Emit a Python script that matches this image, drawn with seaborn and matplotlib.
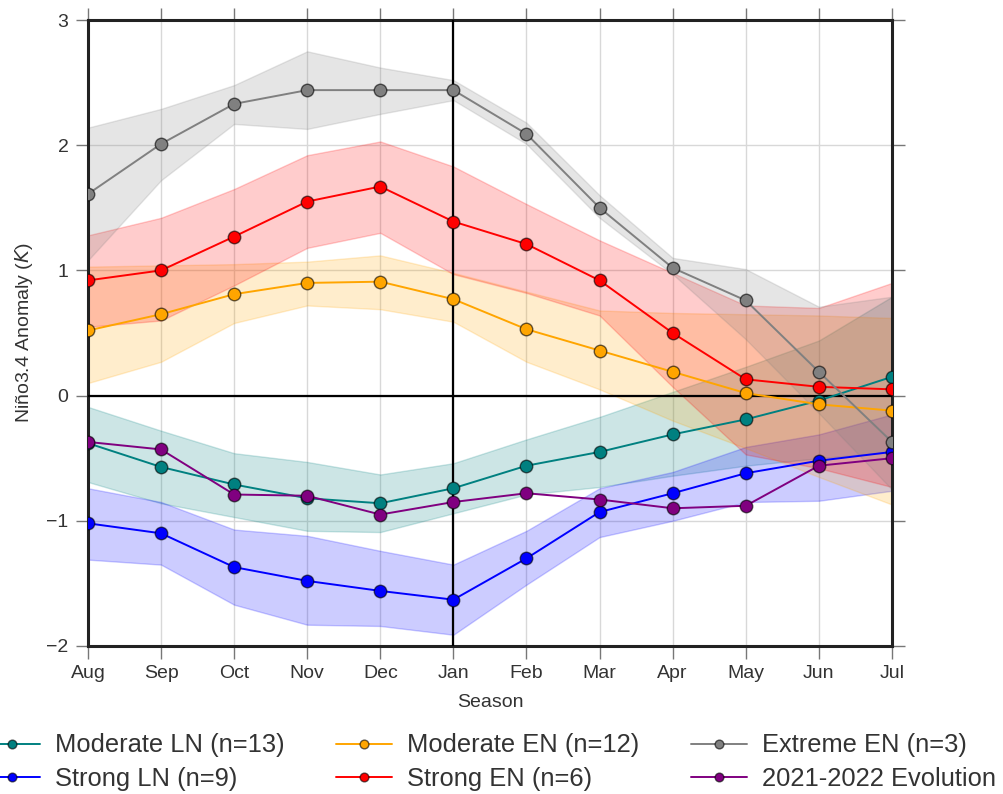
import numpy as np
import pandas as pd
import matplotlib
matplotlib.use("Agg")
import matplotlib.pyplot as plt
import seaborn as sns

# seasons along the x axis (Aug -> Jul)
months = ["Aug", "Sep", "Oct", "Nov", "Dec", "Jan", "Feb", "Mar", "Apr", "May", "Jun", "Jul"]

# Moderate La Nina
mod_ln    = [-0.38, -0.57, -0.71, -0.82, -0.86, -0.74, -0.56, -0.45, -0.31, -0.19, -0.04, 0.15]
mod_ln_lo = [-0.69, -0.86, -0.97, -1.08, -1.09, -0.94, -0.79, -0.73, -0.64, -0.56, -0.50, -0.45]
mod_ln_hi = [-0.09, -0.28, -0.46, -0.53, -0.63, -0.54, -0.35, -0.17, 0.03, 0.23, 0.44, 0.79]

# Strong La Nina
str_ln    = [-1.02, -1.10, -1.37, -1.48, -1.56, -1.63, -1.30, -0.93, -0.78, -0.62, -0.52, -0.45]
str_ln_lo = [-1.31, -1.35, -1.67, -1.83, -1.84, -1.91, -1.51, -1.13, -1.00, -0.85, -0.84, -0.76]
str_ln_hi = [-0.74, -0.85, -1.07, -1.12, -1.24, -1.35, -1.08, -0.74, -0.61, -0.41, -0.31, -0.15]

# Moderate El Nino
mod_en    = [0.52, 0.65, 0.81, 0.90, 0.91, 0.77, 0.53, 0.36, 0.19, 0.02, -0.07, -0.12]
mod_en_lo = [0.10, 0.27, 0.58, 0.72, 0.69, 0.59, 0.27, 0.05, -0.20, -0.42, -0.65, -0.87]
mod_en_hi = [1.03, 1.04, 1.05, 1.07, 1.12, 0.98, 0.83, 0.68, 0.66, 0.65, 0.64, 0.62]

# Strong El Nino
str_en    = [0.92, 1.00, 1.27, 1.55, 1.67, 1.39, 1.21, 0.92, 0.50, 0.13, 0.07, 0.05]
str_en_lo = [0.55, 0.60, 0.88, 1.18, 1.30, 0.97, 0.82, 0.64, 0.07, -0.47, -0.58, -0.73]
str_en_hi = [1.28, 1.42, 1.65, 1.92, 2.03, 1.83, 1.53, 1.24, 0.98, 0.72, 0.70, 0.90]

# Extreme El Nino
ext_en    = [1.61, 2.01, 2.33, 2.44, 2.44, 2.44, 2.09, 1.50, 1.02, 0.76, 0.19, -0.37]
ext_en_lo = [1.08, 1.72, 2.17, 2.13, 2.25, 2.36, 2.01, 1.42, 0.97, 0.45, -0.14, -0.75]
ext_en_hi = [2.14, 2.29, 2.48, 2.75, 2.62, 2.52, 2.18, 1.60, 1.10, 1.01, 0.71, 0.79]

# 2021-2022 evolution (no spread)
evo_2122 = [-0.37, -0.43, -0.79, -0.80, -0.95, -0.85, -0.78, -0.83, -0.90, -0.88, -0.56, -0.50]

series = [
    ("Moderate LN (n=13)", mod_ln, mod_ln_lo, mod_ln_hi, "teal"),
    ("Strong LN (n=9)", str_ln, str_ln_lo, str_ln_hi, "blue"),
    ("Moderate EN (n=12)", mod_en, mod_en_lo, mod_en_hi, "orange"),
    ("Strong EN (n=6)", str_en, str_en_lo, str_en_hi, "red"),
    ("Extreme EN (n=3)", ext_en, ext_en_lo, ext_en_hi, "gray"),
    ("2021-2022 Evolution", evo_2122, None, None, "purple"),
]

sns.set_theme(style="whitegrid")
plt.rcParams["font.family"] = ["Liberation Sans", "DejaVu Sans"]
plt.rcParams["text.color"] = "#333333"
plt.rcParams["axes.labelcolor"] = "#333333"

fig = plt.figure(figsize=(10.04, 7.94), dpi=100)
ax = fig.add_axes([0.0876, 0.1864, 0.8008, 0.7884])

xs = np.arange(len(months))

# spread bands
for name, mid, lo, hi, color in series:
    if lo is None:
        continue
    ax.fill_between(xs, lo, hi, color=color, alpha=0.2, linewidth=1, zorder=2)

handles = {}
for name, mid, lo, hi, color in series:
    df = pd.DataFrame({"x": xs, "y": mid})
    sns.lineplot(data=df, x="x", y="y", ax=ax, color=color, marker="o",
                 markersize=9, markeredgecolor=(0, 0, 0, 0.6), markeredgewidth=1,
                 linewidth=1.4, label=name, zorder=4)
    handles[name] = ax.get_lines()[-1]

ax.axhline(0, color="black", lw=1.6, zorder=3)
ax.axvline(5, color="black", lw=1.6, zorder=3)

ax.set_xlim(0, 11)
ax.set_ylim(-2, 3)
ax.set_xticks(xs)
ax.set_xticklabels(months)
ax.set_yticks([-2, -1, 0, 1, 2, 3])
ax.grid(True, color="#d8d8d8", lw=1)

for sp in ax.spines.values():
    sp.set_visible(True)
    sp.set_color("#222222")
    sp.set_linewidth(2.2)

ax.tick_params(axis="both", which="both", direction="out", length=9, width=1,
               labelcolor="#333333", color="#777777", labelsize=14,
               top=True, right=True, bottom=True, left=True, pad=5)

ax.set_xlabel("Season", fontsize=14, labelpad=8)
ax.set_ylabel("Niño3.4 Anomaly ($K$)", fontsize=14, labelpad=8)

order = ["Moderate LN (n=13)", "Strong LN (n=9)", "Moderate EN (n=12)",
         "Strong EN (n=6)", "Extreme EN (n=3)", "2021-2022 Evolution"]
ax.legend([handles[n] for n in order], order, loc="upper center",
          bbox_to_anchor=(0.5, -0.103), ncol=3, frameon=False, fontsize=18.4,
          handlelength=2.2, handletextpad=0.6, columnspacing=2.0,
          markerscale=0.7, labelspacing=0.38)

fig.savefig("out.png", dpi=100)
